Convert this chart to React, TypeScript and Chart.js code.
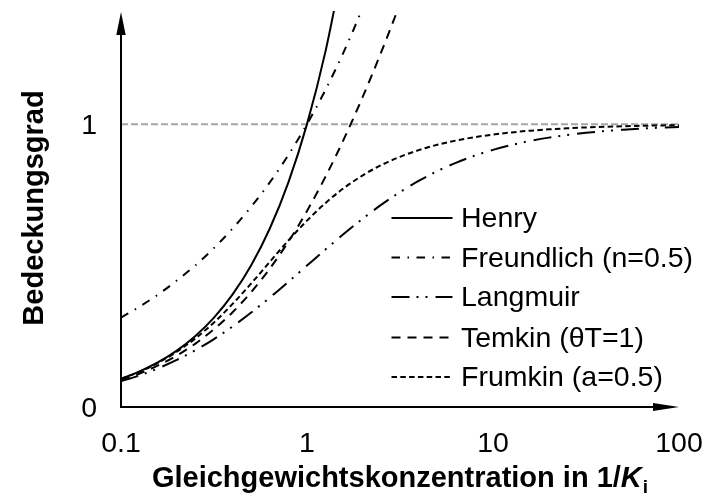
import React, { useEffect, useRef } from "react";
import { Chart, registerables } from "chart.js";

Chart.register(...registerables);

// Equilibrium concentration in units of 1/K_i (log spaced)
const concentration = [
  0.1, 0.1259, 0.1585, 0.1995, 0.2512, 0.3162, 0.3981, 0.5012, 0.631, 0.7943,
  1, 1.259, 1.585, 1.995, 2.512, 3.162, 3.981, 5.012, 6.31, 7.943,
  10, 12.59, 15.85, 19.95, 25.12, 31.62, 39.81, 50.12, 63.1, 79.43, 100,
];

const henry = [
  0.1, 0.1259, 0.1585, 0.1995, 0.2512, 0.3162, 0.3981, 0.5012, 0.631, 0.7943,
  1, 1.259, 1.585, null, null, null, null, null, null, null,
  null, null, null, null, null, null, null, null, null, null, null,
];

const freundlich = [
  0.316, 0.355, 0.398, 0.447, 0.501, 0.562, 0.631, 0.708, 0.794, 0.891,
  1.0, 1.122, 1.259, 1.413, 1.585, null, null, null, null, null,
  null, null, null, null, null, null, null, null, null, null, null,
];

const langmuir = [
  0.0909, 0.1118, 0.1368, 0.1663, 0.2008, 0.2402, 0.2847, 0.3339, 0.3869, 0.4427,
  0.5, 0.5573, 0.6131, 0.6661, 0.7153, 0.7597, 0.7992, 0.8337, 0.8632, 0.8882,
  0.9091, 0.9264, 0.9407, 0.9523, 0.9617, 0.9693, 0.9755, 0.9804, 0.9844, 0.9876, 0.9901,
];

const temkin = [
  0.0953, 0.1186, 0.1471, 0.1819, 0.2241, 0.2748, 0.3351, 0.4063, 0.4892, 0.5846,
  0.6931, 0.8149, 0.9497, 1.097, 1.2562, 1.426, 1.6057, null, null, null,
  null, null, null, null, null, null, null, null, null, null, null,
];

const frumkin = [
  0.0995, 0.1249, 0.1564, 0.1952, 0.2425, 0.299, 0.3644, 0.4369, 0.5132, 0.5887,
  0.659, 0.7215, 0.7748, 0.819, 0.8553, 0.8845, 0.908, 0.9269, 0.9419, 0.9538,
  0.9632, 0.9708, 0.9768, 0.9816, 0.9854, 0.9884, 0.9908, 0.9927, 0.9942, 0.9954, 0.9963,
];

const saturationX = [0.1, 100];
const saturationY = [1, 1];

const seriesLabels = [
  "Henry",
  "Freundlich (n=0.5)",
  "Langmuir",
  "Temkin (θT=1)",
  "Frumkin (a=0.5)",
];

const xTickValues = [0.1, 1, 10, 100];
const xTickLabels = ["0.1", "1", "10", "100"];
const yTickValues = [0, 1];
const yTickLabels = ["0", "1"];

const yTitle = "Bedeckungsgrad";
const xTitleMain = "Gleichgewichtskonzentration in 1/";
const xTitleVar = "K";
const xTitleSub = "i";

const FONT = '"Liberation Sans", Arial, Helvetica, sans-serif';

const dashes: number[][] = [
  [],
  [8.5, 7.5, 1.5, 7.5],
  [18, 7, 2, 7, 2, 8],
  [9, 7],
  [5.5, 3.3],
];

function pts(xs: number[], ys: (number | null)[]) {
  const out: { x: number; y: number | null }[] = [];
  for (let i = 0; i < xs.length; i++) out.push({ x: xs[i], y: ys[i] });
  return out;
}

const decorPlugin = {
  id: "decor",
  afterDatasetsDraw(chart: any) {
    const { ctx, scales } = chart;
    const xs = scales.x;
    const ys = scales.y;
    const x0 = xs.getPixelForValue(0.1);
    const xEnd = xs.getPixelForValue(100);
    const y0 = ys.getPixelForValue(0);
    const yTop = ys.getPixelForValue(1.4) + 1;

    ctx.save();
    ctx.setLineDash([]);
    ctx.strokeStyle = "#000";
    ctx.fillStyle = "#000";
    ctx.lineWidth = 2;
    ctx.lineCap = "butt";

    // axes
    ctx.beginPath();
    ctx.moveTo(x0, y0 + 1);
    ctx.lineTo(x0, yTop + 18);
    ctx.moveTo(x0 - 1, y0);
    ctx.lineTo(xEnd - 20, y0);
    ctx.stroke();

    // arrowheads
    ctx.beginPath();
    ctx.moveTo(x0, yTop);
    ctx.lineTo(x0 - 4.7, yTop + 23);
    ctx.lineTo(x0 + 4.7, yTop + 23);
    ctx.closePath();
    ctx.fill();

    ctx.beginPath();
    ctx.moveTo(xEnd, y0);
    ctx.lineTo(xEnd - 26, y0 - 4);
    ctx.lineTo(xEnd - 26, y0 + 4);
    ctx.closePath();
    ctx.fill();

    // tick labels
    ctx.font = `28.5px ${FONT}`;
    ctx.textBaseline = "alphabetic";
    ctx.textAlign = "center";
    xTickValues.forEach((v, i) => {
      ctx.fillText(xTickLabels[i], xs.getPixelForValue(v), y0 + 45);
    });
    ctx.textAlign = "right";
    yTickValues.forEach((v, i) => {
      ctx.fillText(yTickLabels[i], x0 - 24, ys.getPixelForValue(v) + 10);
    });

    // y title
    ctx.save();
    ctx.translate(43, (ys.top + ys.bottom) / 2 - 1);
    ctx.rotate(-Math.PI / 2);
    ctx.font = `bold 29px ${FONT}`;
    ctx.textAlign = "center";
    ctx.fillText(yTitle, 0, 0);
    ctx.restore();

    // x title
    const fMain = `bold 29px ${FONT}`;
    const fVar = `italic bold 29px ${FONT}`;
    const fSub = `bold 19px ${FONT}`;
    ctx.textAlign = "left";
    ctx.font = fMain;
    const w1 = ctx.measureText(xTitleMain).width;
    ctx.font = fVar;
    const w2 = ctx.measureText(xTitleVar).width;
    ctx.font = fSub;
    const w3 = ctx.measureText(xTitleSub).width;
    const total = w1 + w2 + 1 + w3;
    const cx = (x0 + xEnd) / 2;
    let tx = cx - total / 2;
    const tb = y0 + 80;
    ctx.font = fMain;
    ctx.fillText(xTitleMain, tx, tb);
    tx += w1;
    ctx.font = fVar;
    ctx.fillText(xTitleVar, tx, tb);
    tx += w2 + 1;
    ctx.font = fSub;
    ctx.fillText(xTitleSub, tx, tb + 6);

    // legend
    const rows = [218, 257.5, 297, 337.5, 377];
    ctx.font = `28.5px ${FONT}`;
    ctx.textAlign = "left";
    for (let i = 0; i < seriesLabels.length; i++) {
      const ds = chart.data.datasets[i];
      const y = rows[i];
      ctx.setLineDash(ds.borderDash || []);
      ctx.lineWidth = 2;
      ctx.strokeStyle = "#000";
      ctx.beginPath();
      ctx.moveTo(391.5, y);
      ctx.lineTo(452.5, y);
      ctx.stroke();
      ctx.setLineDash([]);
      ctx.fillText(ds.label, 461, y + 9);
    }
    ctx.restore();
  },
};

export default function App() {
  const ref = useRef<HTMLCanvasElement | null>(null);

  useEffect(() => {
    if (!ref.current) return;
    const series = [henry, freundlich, langmuir, temkin, frumkin];
    const datasets: any[] = series.map((s, i) => ({
      label: seriesLabels[i],
      data: pts(concentration, s),
      borderColor: "#000",
      backgroundColor: "#000",
      borderWidth: 2,
      borderDash: dashes[i],
      pointRadius: 0,
      fill: false,
      cubicInterpolationMode: "monotone",
      spanGaps: false,
      order: i + 1,
    }));
    datasets.push({
      label: "Sättigung",
      data: pts(saturationX, saturationY),
      borderColor: "#a6a6a6",
      borderWidth: 2,
      borderDash: [7, 3],
      pointRadius: 0,
      fill: false,
      order: 20,
    });

    const chart = new Chart(ref.current, {
      type: "line",
      data: { datasets },
      options: {
        responsive: false,
        animation: false,
        devicePixelRatio: 1,
        layout: { padding: { left: 121, right: 40, top: 11, bottom: 92 } },
        plugins: { legend: { display: false }, tooltip: { enabled: false } },
        events: [],
        scales: {
          x: { type: "logarithmic", min: 0.1, max: 100, display: false },
          y: { type: "linear", min: 0, max: 1.4, display: false },
        },
      },
      plugins: [decorPlugin],
    } as any);
    return () => chart.destroy();
  }, []);

  return (
    <div
      style={{
        position: "fixed",
        left: 0,
        top: 0,
        width: 719,
        height: 499,
        background: "#fff",
      }}
    >
      <canvas ref={ref} width={719} height={499} style={{ display: "block", width: 719, height: 499 }} />
    </div>
  );
}
